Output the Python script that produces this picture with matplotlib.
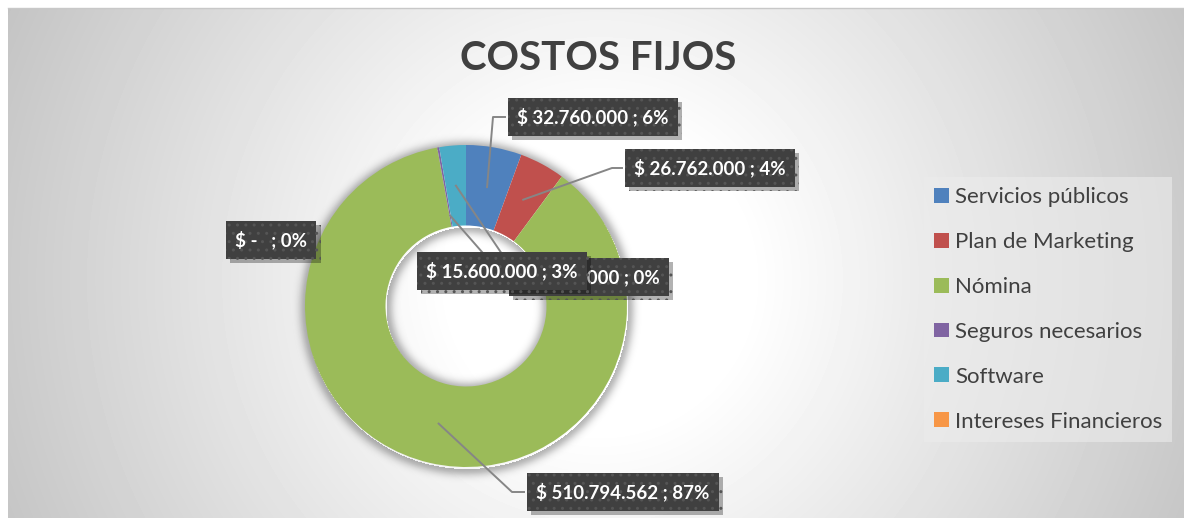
import numpy as np
import matplotlib
matplotlib.use('Agg')
import matplotlib.pyplot as plt
import matplotlib.patheffects as pe

W, H = 1184, 519
DPI = 100

# Datos
categorias = ['Servicios públicos', 'Plan de Marketing', 'Nómina',
              'Seguros necesarios', 'Software', 'Intereses Financieros']
valores = [32760000, 26762000, 510794562, 1200000, 15600000, 0]
porcentajes = [6, 4, 87, 0, 3, 0]

colores = ['#4F81BD', '#C0504D', '#9BBB59', '#8064A2', '#4BACC6', '#F79646']

# Layout (pixeles de la imagen, origen arriba-izquierda)
CENTRO = (466, 306)
RADIO = 161
ETQ_POS = [(593, 117), (710, 168), (623, 492), (589, 277), (502, 271), (271, 240)]
ANCLA_R = [0.75, 0.75, 0.75, 0.57, 0.75, 0.75]
GUIAS = [[(493, 117), (505, 117)],
         [(612, 168), (622, 168)],
         [(512, 492), (524, 492)],
         [(489, 260)],
         [(502, 254)],
         None]

FONT = 'Lato'


def Y(y):
    return H - y


def etiqueta(v, p):
    if v == 0:
        return f'$ -   ; {p}%'
    return '$ ' + f'{v:,.0f}'.replace(',', '.') + f' ; {p}%'


fig = plt.figure(figsize=(W / DPI, H / DPI), dpi=DPI)
fig.patch.set_facecolor('white')
ax = fig.add_axes([0, 0, 1, 1])

# fondo con degradado radial
gx = np.arange(8, W) + 0.5
gy = np.arange(8, 518) + 0.5
GX, GY = np.meshgrid(gx, gy)
dd = np.hypot(GX - 600, GY - 280)
t = np.clip((dd - 150) / 500, 0, 1)
fondo = 1 - (59 / 255) * t
ax.imshow(fondo, cmap='gray', vmin=0, vmax=1, origin='upper',
          extent=(8, W, Y(518), Y(8)), interpolation='bilinear', zorder=0)
ax.plot([8, W], [Y(8), Y(8)], color='#c8c8c8', lw=1, zorder=0.5)

# sombra del anillo
cx, cy = CENTRO[0], Y(CENTRO[1])
m = RADIO + 30
xs = np.arange(2 * m) + 0.5 - m
XX, YY = np.meshgrid(xs, xs)
dist = np.hypot(XX - 1, YY + 2)
d = np.maximum(dist - RADIO, RADIO * 0.5 - dist)
sombra = np.zeros(XX.shape + (4,))
sombra[..., 3] = np.where(d > 0, 0.28 * np.exp(-(d / 7.0) ** 2), 0)
ax.imshow(sombra, origin='lower', extent=(cx - m, cx + m, cy - m, cy + m),
          interpolation='bilinear', zorder=1)

wedges, _ = ax.pie(valores, colors=colores, startangle=90, counterclock=False,
                   center=(cx, cy), radius=RADIO,
                   wedgeprops=dict(width=RADIO * 0.5, linewidth=0, zorder=2))

# lineas guia
for i, w in enumerate(wedges):
    if GUIAS[i] is None:
        continue
    ang = np.deg2rad((w.theta1 + w.theta2) / 2)
    ax0 = cx + ANCLA_R[i] * RADIO * np.cos(ang)
    ay0 = cy + ANCLA_R[i] * RADIO * np.sin(ang)
    px = [ax0] + [p[0] for p in GUIAS[i]]
    py = [ay0] + [Y(p[1]) for p in GUIAS[i]]
    ax.plot(px, py, color='#868686', lw=1.4, zorder=4)

# etiquetas de datos
for i in range(len(valores)):
    x, y = ETQ_POS[i]
    txt = ax.text(x, Y(y), etiqueta(valores[i], porcentajes[i]),
                  ha='center', va='center', fontsize=13.5, fontweight='bold',
                  color='white', family=FONT, zorder=6 + i,
                  bbox=dict(boxstyle='square,pad=0.5', fc='#404040',
                            ec='#555555', lw=0, hatch='..'))
    txt.get_bbox_patch().set_path_effects([
        pe.SimplePatchShadow(offset=(3, -3), shadow_rgbFace='k', alpha=0.3),
        pe.Normal()])

ax.text(598, Y(58), 'COSTOS FIJOS', ha='center', va='center',
        fontsize=29, fontweight='bold', color='#404040', family=FONT)

leg = ax.legend(wedges, categorias, loc='upper left',
                bbox_to_anchor=(913 / W, 1 - 166 / H),
                bbox_transform=fig.transFigure,
                prop=dict(family=FONT, size=16),
                handlelength=0.65, handleheight=0.65, handletextpad=0.3,
                labelspacing=1.12, borderpad=0.45, fancybox=False)
leg.get_frame().set_facecolor('#ececec')
leg.get_frame().set_alpha(0.6)
leg.get_frame().set_edgecolor('none')
for tx in leg.get_texts():
    tx.set_color('#404040')

ax.set_xlim(0, W)
ax.set_ylim(0, H)
ax.axis('off')

fig.savefig('out.png', dpi=DPI)
